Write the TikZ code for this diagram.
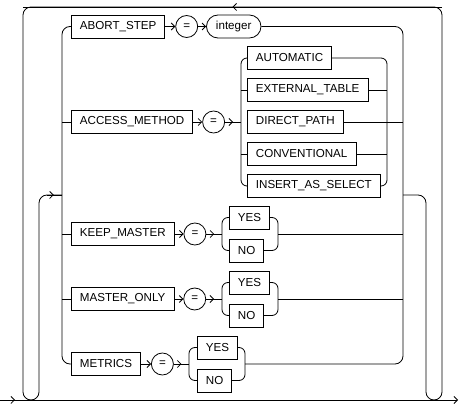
\documentclass[tikz,border=0pt]{standalone}
\usepackage{fontspec}
\setmainfont{Liberation Sans}
\usetikzlibrary{arrows.meta,positioning,decorations.markings,calc}
\begin{document}
\begin{tikzpicture}[x=1pt,y=-1pt,line width=0.8pt,
  kw/.style={draw,rectangle,minimum height=23pt,inner xsep=8.5pt,inner ysep=0pt,anchor=west,font=\fontsize{11.6}{13}\selectfont},
  var/.style={kw,rounded corners=11.5pt,inner xsep=9.5pt},
  eq/.style={draw,circle,minimum size=22pt,inner sep=0pt,font=\fontsize{11.6}{13}\selectfont},
  tip/.tip={Straight Barb[length=3.5pt,width=7pt]},
  arr/.style={-tip},
  midarr/.style={decoration={markings,mark=at position #1 with {\arrow{tip}}},postaction={decorate}},
  rc/.style={rounded corners=8pt},
  rs/.style={rounded corners=6pt}
]
\useasboundingbox (0,0) rectangle (459,404);
% bars and main line coordinates
\coordinate (ms) at (0,400);
\coordinate (me) at (458,400);
\coordinate (lt) at (23,7);
\coordinate (rt) at (442,7);
\coordinate (L) at (62,195);
\coordinate (R) at (403,195);
\coordinate (A1) at (241,122);
\coordinate (A2) at (387,122);
\coordinate (K1) at (222,234);
\coordinate (K2) at (278,234);
\coordinate (M1) at (222,299);
\coordinate (M2) at (278,299);
\coordinate (T1) at (189,364);
\coordinate (T2) at (245,364);

% nodes
\node[kw] (ab) at (71,26.5) {ABORT\_STEP};
\node[eq,right=10pt of ab] (eq1) {=};
\node[var,right=8pt of eq1] (int) {integer};

\node[kw] (ac) at (71,122) {ACCESS\_METHOD};
\node[eq,right=9pt of ac] (eq2) {=};
\node[kw] (au) at (247,58) {AUTOMATIC};
\node[kw] (ext) at (247,90) {EXTERNAL\_TABLE};
\node[kw] (dp) at (247,122) {DIRECT\_PATH};
\node[kw] (cv) at (247,154) {CONVENTIONAL};
\node[kw] (is) at (247,186) {INSERT\_AS\_SELECT};

\node[kw] (km) at (71,234) {KEEP\_MASTER};
\node[eq,right=9pt of km] (eq3) {=};
\node[kw] (ky) at (229,217.5) {YES};
\node[kw] (kn) at (229,250.5) {NO};

\node[kw] (mo) at (71,299) {MASTER\_ONLY};
\node[eq,right=9pt of mo] (eq4) {=};
\node[kw] (my) at (229,282.5) {YES};
\node[kw] (mn) at (229,315.5) {NO};

\node[kw] (mt) at (71,364) {METRICS};
\node[eq,right=10pt of mt] (eq5) {=};
\node[kw] (ty) at (197,347.5) {YES};
\node[kw] (tn) at (197,380.5) {NO};

% main line
\draw[arr,midarr=15pt] (ms) -- (me);
% repeat loop
\draw[rc] ($(rt |- me)+(-8,0)$) -| (rt) -- (lt) |- ($(lt |- ms)+(8,0)$);
\draw[midarr=0.5] (rt) -- (lt);
% entry into choice
\draw[rc] ($(lt |- ms)+(8,0)$) -| ($(L)+(-23,0)$) -- (L);
\draw[midarr=0.45] ($(L)+(-15,0)$) -- (L);
% exit from choice
\draw[rc] (R) -| ($(rt |- me)+(-16,0)$) -- ($(rt |- me)+(-8,0)$);

% left main bar
\draw[rc] (ab.west) -| (L |- mt.west) -- (mt.west);
\draw (L |- ac.west) -- (ac.west);
\draw (L |- km.west) -- (km.west);
\draw (L |- mo.west) -- (mo.west);
% right main bar
\draw[rc] (int.east) -| (R |- T2) -- (T2);
\draw (dp.east) -- (R |- dp.east);
\draw (K2) -- (R |- K2);
\draw (M2) -- (R |- M2);

% ABORT_STEP row
\draw[arr] (ab.east) -- (eq1.west);
\draw[arr] (eq1.east) -- (int.west);

% ACCESS_METHOD row
\draw[arr] (ac.east) -- (eq2.west);
\draw[midarr=0.5] (eq2.east) -- (A1);
\draw[rs] (au.west) -| (A1 |- is.west) -- (is.west);
\draw (A1 |- ext.west) -- (ext.west);
\draw (A1 |- cv.west) -- (cv.west);
\draw[rs] (au.east) -| (A2 |- is.east) -- (is.east);
\draw (ext.east) -- (A2 |- ext.east);
\draw (cv.east) -- (A2 |- cv.east);

% KEEP_MASTER row
\draw[arr] (km.east) -- (eq3.west);
\draw[midarr=0.5] (eq3.east) -- (K1);
\draw[rs] (ky.west) -| (K1 |- kn.west) -- (kn.west);
\draw[rs] (ky.east) -| (K2 |- kn.east) -- (kn.east);

% MASTER_ONLY row
\draw[arr] (mo.east) -- (eq4.west);
\draw[midarr=0.5] (eq4.east) -- (M1);
\draw[rs] (my.west) -| (M1 |- mn.west) -- (mn.west);
\draw[rs] (my.east) -| (M2 |- mn.east) -- (mn.east);

% METRICS row
\draw[arr] (mt.east) -- (eq5.west);
\draw[midarr=0.5] (eq5.east) -- (T1);
\draw[rs] (ty.west) -| (T1 |- tn.west) -- (tn.west);
\draw[rs] (ty.east) -| (T2 |- tn.east) -- (tn.east);
\end{tikzpicture}
\end{document}
